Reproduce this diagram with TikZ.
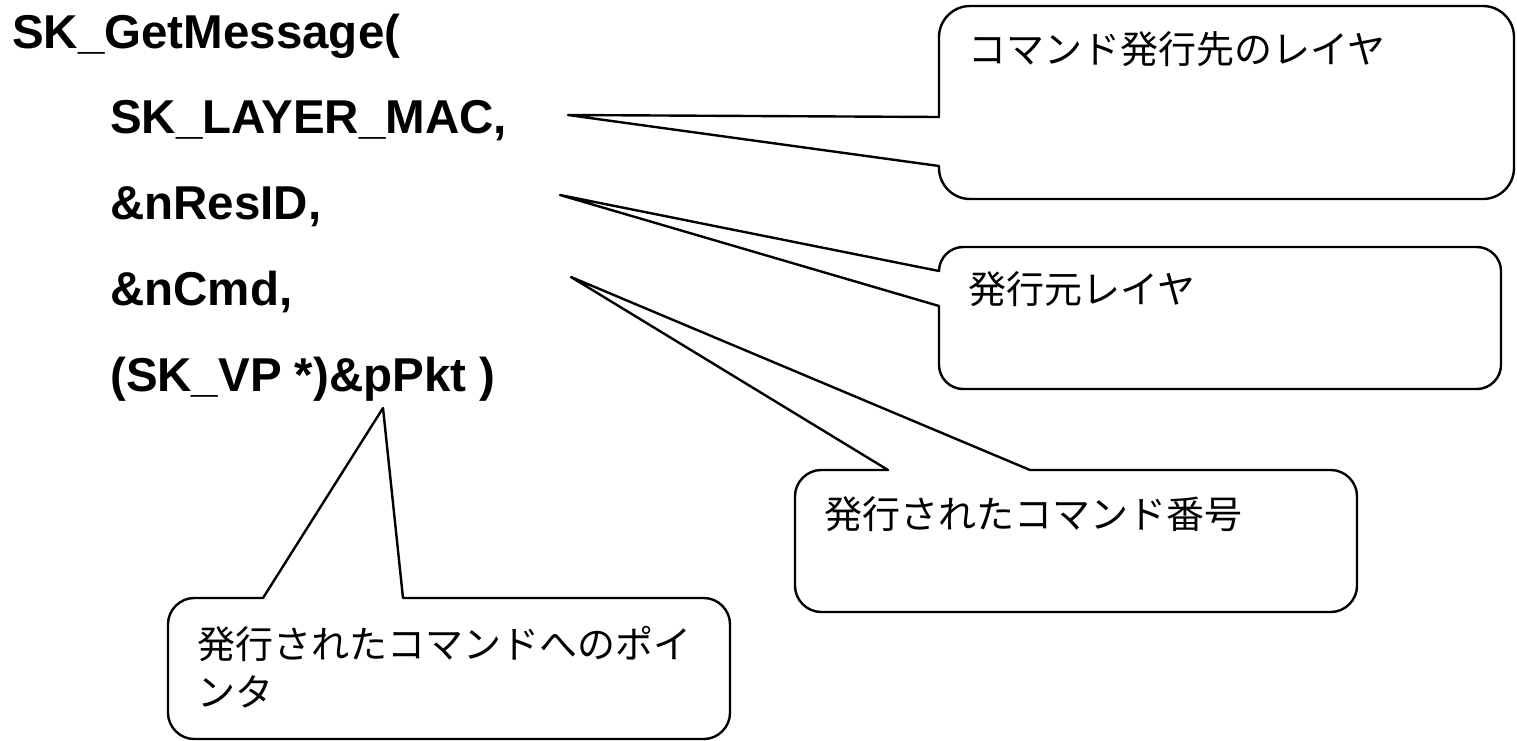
\documentclass[tikz,border=0pt]{standalone}
\usepackage{fontspec}
\setmainfont{Liberation Sans}
\newfontfamily\jpfont{Noto Sans CJK JP}
\begin{document}
\begin{tikzpicture}[x=1pt,y=-1pt,
  codetext/.style={anchor=base west, inner sep=0pt, font=\fontsize{47.5}{56}\selectfont\bfseries},
  jptext/.style={anchor=base west, inner sep=0pt, font=\fontsize{38}{48}\selectfont\jpfont},
  callout/.style={draw=black, line width=2.4pt, fill=white, line join=round}]
\useasboundingbox (0,0) rectangle (1517,740);

% code text
\node[codetext] (code1) at (12,48) {SK\_GetMessage(};
\node[codetext] (code2) at (110,133.5) {SK\_LAYER\_MAC,};
\node[codetext] (code3) at (110,219) {\&nResID,};
\node[codetext] (code4) at (110,305.5) {\&nCmd,};
\node[codetext] (code5) at (110,391) {(SK\_VP *)\&pPkt )};

% pointer tips
\coordinate (tip1) at (568,115);
\coordinate (tip2) at (560,195);
\coordinate (tip3) at (571,277);
\coordinate (tip4) at (383,408);

% callout 1
\path[callout] (970,6) -- (1483,6) .. controls (1500,6) and (1514,20) .. (1514,37)
  -- (1514,168) .. controls (1514,185) and (1500,199) .. (1483,199)
  -- (970,199) .. controls (953,199) and (939,185) .. (939,168)
  -- (939,166) -- (tip1) -- (939,117)
  -- (939,37) .. controls (939,20) and (953,6) .. (970,6) -- cycle;
% callout 2
\path[callout] (963,247) -- (1477,247) .. controls (1490,247) and (1501,258) .. (1501,271)
  -- (1501,365) .. controls (1501,378) and (1490,389) .. (1477,389)
  -- (963,389) .. controls (950,389) and (939,378) .. (939,365)
  -- (939,306) -- (tip2) -- (939,271)
  .. controls (939,258) and (950,247) .. (963,247) -- cycle;
% callout 3
\path[callout] (821,470) -- (888,470) -- (tip3) -- (1030,470)
  -- (1331,470) .. controls (1345,470) and (1357,482) .. (1357,496)
  -- (1357,586) .. controls (1357,600) and (1345,612) .. (1331,612)
  -- (821,612) .. controls (807,612) and (795,600) .. (795,586)
  -- (795,496) .. controls (795,482) and (807,470) .. (821,470) -- cycle;
% callout 4
\path[callout] (194,598) -- (263,598) -- (tip4) -- (403,598)
  -- (704,598) .. controls (718,598) and (730,610) .. (730,624)
  -- (730,713) .. controls (730,727) and (718,739) .. (704,739)
  -- (194,739) .. controls (180,739) and (168,727) .. (168,713)
  -- (168,624) .. controls (168,610) and (180,598) .. (194,598) -- cycle;

% callout texts
\node[jptext] (t1) at (968,63) {コマンド発行先のレイヤ};
\node[jptext] (t2) at (968,303) {発行元レイヤ};
\node[jptext] (t3) at (824,528) {発行されたコマンド番号};
\node[jptext] (t4a) at (197,658) {発行されたコマンドへのポイ};
\node[jptext] (t4b) at (197,706) {ンタ};
\end{tikzpicture}
\end{document}
